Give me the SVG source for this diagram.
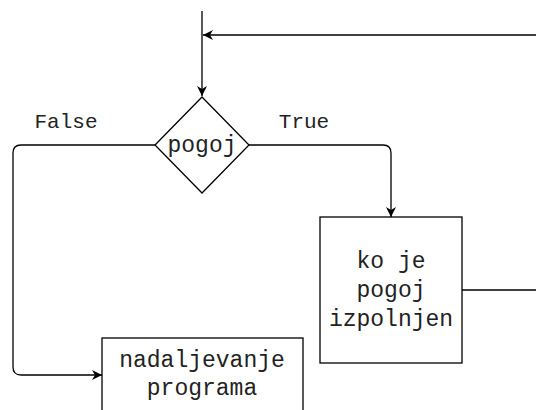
<svg xmlns="http://www.w3.org/2000/svg" width="536" height="410" viewBox="0 0 536 410">
<style>
.ln{fill:none;stroke:#000;stroke-width:1.3}
.nd{fill:#fff;stroke:#000;stroke-width:1.3}
.tx{font-family:"Liberation Mono","Courier New",monospace;font-size:23px;fill:#222;text-anchor:middle}
.lb{font-family:"Liberation Mono","Courier New",monospace;font-size:21px;fill:#222;text-anchor:middle}
</style>
<defs>
<marker id="ah" viewBox="0 0 10 10" refX="10" refY="5" markerWidth="10" markerHeight="10" markerUnits="userSpaceOnUse" orient="auto">
<path d="M0,0 L10,5 L0,10 L3,5 Z" fill="#000"/>
</marker>
</defs>
<g id="connectors">
<path class="ln" d="M202,11 L202,96" marker-end="url(#ah)"/>
<path class="ln" d="M536,35 L203,35" marker-end="url(#ah)"/>
<path class="ln" d="M155,145 L21,145 Q13,145 13,153 L13,367 Q13,375 21,375 L102,375" marker-end="url(#ah)"/>
<path class="ln" d="M249,145 L383,145 Q391,145 391,153 L391,217" marker-end="url(#ah)"/>
<path class="ln" d="M462,290 L536,290"/>
<text class="lb" x="66" y="128">False</text>
<text class="lb" x="304" y="128">True</text>
</g>
<g id="pogoj">
<polygon class="nd" points="202,97 249,145 202,193 155,145"/>
<text class="tx" x="202" y="152">pogoj</text>
</g>
<g id="ko-je">
<rect class="nd" x="320" y="217" width="142" height="146"/>
<text class="tx" x="391" y="268">ko je</text>
<text class="tx" x="391" y="297">pogoj</text>
<text class="tx" x="391" y="326">izpolnjen</text>
</g>
<g id="nadaljevanje">
<rect class="nd" x="102" y="338" width="201" height="80"/>
<text class="tx" x="202" y="367">nadaljevanje</text>
<text class="tx" x="202" y="395">programa</text>
</g>
</svg>
